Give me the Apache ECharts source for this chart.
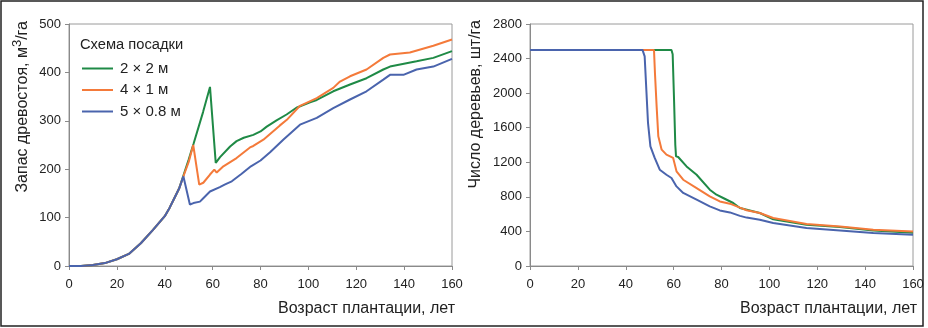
<!DOCTYPE html>
<html>
<head>
<meta charset="utf-8">
<script src="https://cdn.jsdelivr.net/npm/echarts@6/dist/echarts.min.js"></script>
<style>html,body{margin:0;padding:0;background:#fff}#c{width:928px;height:328px}</style>
</head>
<body>
<div id="c"></div>
<script>
// ---- Data ----
const seriesNames = ['2 × 2 м', '4 × 1 м', '5 × 0.8 м'];
const xTicks = [0, 20, 40, 60, 80, 100, 120, 140, 160];

// Left panel: stand volume, m3/ha
const volCommonAges = [0, 5, 10, 15, 20, 25, 30, 35, 40, 42, 44, 46];
const volCommonVals = [0, 0, 2, 6, 14, 25, 47, 74, 103, 120, 140, 160];

const volGreenAges = [48, 50, 52, 56, 58.9, 61.3, 63.1, 67.3, 70, 73, 77, 80, 82.6, 86.7, 90.9, 95, 100.7, 103.5, 110.4, 117.4, 124.3, 131.3, 134.1, 145.2, 152.2, 160];
const volGreenVals = [190, 220, 252, 318, 370, 213, 225, 247, 258, 265, 271, 278, 288, 301, 313, 327, 338, 343, 361, 375, 388, 406, 412, 423, 430, 444];

const volOrangeAges = [48, 50, 51.9, 54.4, 56.1, 58.9, 60.7, 61.7, 64.5, 70, 75.6, 77, 81.2, 88, 91, 96.5, 103.5, 110.4, 113.2, 117.4, 124.3, 131.3, 134.1, 142.4, 152.2, 160];
const volOrangeVals = [188, 215, 250, 168, 172, 189, 199, 193, 206, 223, 245, 248, 261, 290, 302, 331, 347, 368, 381, 392, 406, 430, 437, 441, 455, 468];

const volBlueAges = [47.8, 50.5, 52, 54.7, 56.1, 58.9, 63, 65, 68, 72, 76, 80, 84, 89.5, 96.5, 103.5, 110.4, 117.4, 124.3, 131.3, 134.1, 139.7, 145.2, 152.2, 160];
const volBlueVals = [185, 127, 130, 133, 140, 154, 163, 168, 175, 190, 206, 218, 235, 261, 292, 306, 326, 344, 361, 385, 395, 395, 406, 412, 428];

// Right panel: number of trees, trees/ha
const nGreenAges = [0, 59.1, 59.6, 60.2, 60.7, 61, 61.9, 65.4, 69.6, 75.1, 77.9, 80.7, 84.9, 87.7, 96, 101.6, 115.5, 129.5, 143.4, 160];
const nGreenVals = [2500, 2500, 2450, 1900, 1400, 1268, 1261, 1152, 1056, 883, 825, 787, 729, 671, 613, 540, 478, 450, 410, 385];

const nOrangeAges = [0, 51.8, 52.2, 52.9, 53.6, 55, 57, 59.8, 61.2, 64, 69.6, 75.1, 79.3, 83.5, 87.7, 90.5, 96, 101.6, 115.5, 129.5, 143.4, 160];
const nOrangeVals = [2500, 2500, 2233, 1847, 1500, 1346, 1288, 1250, 1095, 998, 902, 805, 747, 721, 675, 645, 613, 555, 486, 458, 420, 400];

const nBlueAges = [0, 47, 47.9, 48.6, 49.3, 50.3, 52.1, 54.2, 57, 59.1, 61.2, 64, 69.6, 75.1, 79.3, 83.5, 87.7, 90.5, 96, 101.6, 115.5, 129.5, 143.4, 160];
const nBlueVals = [2500, 2500, 2425, 2040, 1655, 1384, 1250, 1114, 1056, 1018, 921, 845, 767, 690, 643, 620, 580, 560, 536, 497, 440, 412, 382, 362];

// ---- Build ----
const colors = ['#1f8a46', '#f47a3a', '#4a64ad'];
const zip = (a, b) => a.map((x, i) => [x, b[i]]);
const volCommon = zip(volCommonAges, volCommonVals);

const FONT = 'Liberation Sans, Arial, sans-serif';
const axisLine = { show: true, lineStyle: { color: '#8a8a8a', width: 1 } };
const axisTick = { show: true, length: 4, lineStyle: { color: '#8a8a8a' } };
const axisLabel = { color: '#222', fontSize: 13, fontFamily: FONT, formatter: v => String(v) };

function xAxis(gi) {
  return {
    type: 'value', gridIndex: gi, min: 0, max: 160, interval: 20,
    axisLine, axisTick, splitLine: { show: false },
    axisLabel: Object.assign({ margin: 12 }, axisLabel)
  };
}
function yAxis(gi, max, interval) {
  return {
    type: 'value', gridIndex: gi, min: 0, max, interval,
    axisLine, axisTick, splitLine: { show: false },
    axisLabel: Object.assign({ margin: 8 }, axisLabel)
  };
}
function line(name, data, ci, gi) {
  return {
    name, type: 'line', xAxisIndex: gi, yAxisIndex: gi, data,
    symbol: 'none', showSymbol: false, animation: false,
    lineStyle: { color: colors[ci], width: 2 }, itemStyle: { color: colors[ci] }
  };
}

const chart = echarts.init(document.getElementById('c'), null, { renderer: 'canvas' });
chart.setOption({
  animation: false,
  backgroundColor: '#fff',
  grid: [
    { left: 69, right: 476, top: 24, bottom: 62, show: true, borderColor: '#9a9a9a', borderWidth: 1 },
    { left: 530, right: 15, top: 24, bottom: 62, show: true, borderColor: '#9a9a9a', borderWidth: 1 }
  ],
  xAxis: [xAxis(0), xAxis(1)],
  yAxis: [yAxis(0, 500, 100), yAxis(1, 2800, 400)],
  legend: {
    data: seriesNames, orient: 'vertical', left: 82, top: 60, padding: 0,
    icon: 'rect', itemWidth: 31, itemHeight: 2, itemGap: 4.5,
    textStyle: { fontSize: 15, fontFamily: FONT, color: '#222', lineHeight: 17, padding: [0, 0, 0, 2] }
  },
  series: [
    line(seriesNames[0], volCommon.concat(zip(volGreenAges, volGreenVals)), 0, 0),
    line(seriesNames[1], volCommon.concat(zip(volOrangeAges, volOrangeVals)), 1, 0),
    line(seriesNames[2], volCommon.concat(zip(volBlueAges, volBlueVals)), 2, 0),
    line(seriesNames[0], zip(nGreenAges, nGreenVals), 0, 1),
    line(seriesNames[1], zip(nOrangeAges, nOrangeVals), 1, 1),
    line(seriesNames[2], zip(nBlueAges, nBlueVals), 2, 1)
  ],
  graphic: [
    { type: 'rect', shape: { x: 1, y: 1, width: 922, height: 325 }, style: { fill: 'none', stroke: '#222', lineWidth: 1.5 }, z: 100 },
    { type: 'text', x: 80, y: 45, style: { text: 'Схема посадки', font: '14.7px ' + FONT, fill: '#222', textVerticalAlign: 'middle' } },
    { type: 'text', x: 455, y: 309, style: { text: 'Возраст плантации, лет', font: '16px ' + FONT, fill: '#222', textAlign: 'right', textVerticalAlign: 'middle' } },
    { type: 'text', x: 917, y: 309, style: { text: 'Возраст плантации, лет', font: '16px ' + FONT, fill: '#222', textAlign: 'right', textVerticalAlign: 'middle' } },
    { type: 'text', x: 21, y: 21, rotation: Math.PI / 2,
      style: {
        text: '{a|Запас древостоя, м}{s|3}{a|/га}', fill: '#222', textAlign: 'right', textVerticalAlign: 'middle',
        rich: { a: { fontSize: 16, fontFamily: FONT, color: '#222', lineHeight: 20, verticalAlign: 'bottom' },
                s: { fontSize: 13, fontFamily: FONT, color: '#222', lineHeight: 20, verticalAlign: 'top' } }
      } },
    { type: 'text', x: 476, y: 20, rotation: Math.PI / 2,
      style: { text: 'Число деревьев, шт/га', font: '16px ' + FONT, fill: '#222', textAlign: 'right', textVerticalAlign: 'middle' } }
  ]
});
</script>
</body>
</html>
